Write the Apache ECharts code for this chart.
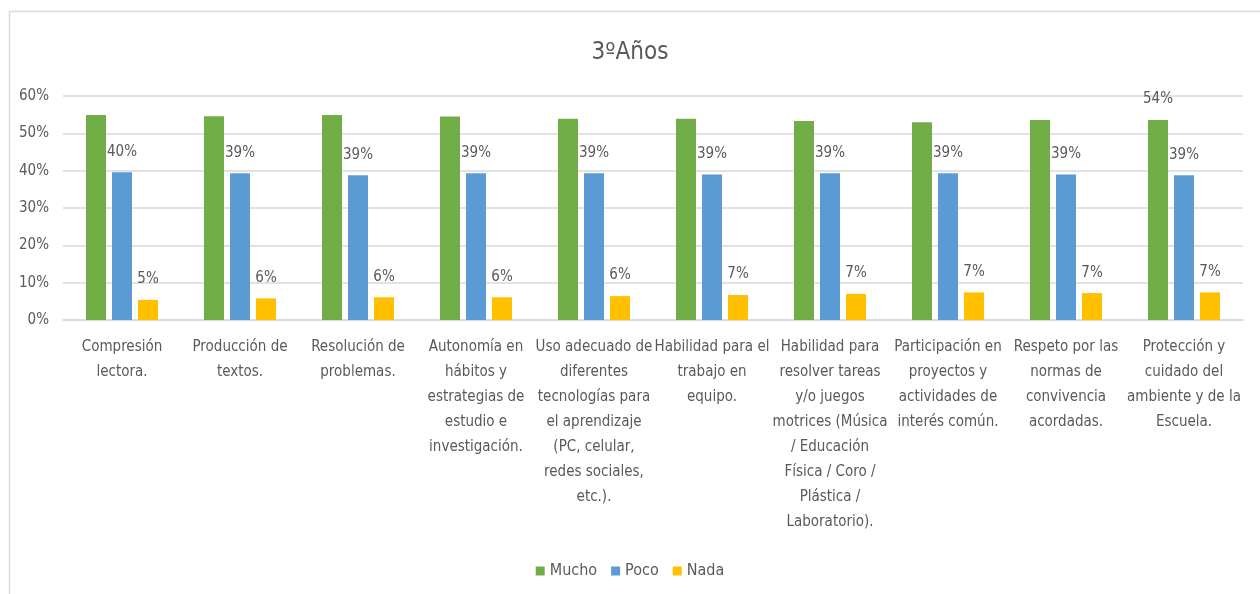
<!DOCTYPE html>
<html>
<head>
<meta charset="utf-8">
<script src="https://cdn.jsdelivr.net/npm/echarts@6/dist/echarts.min.js"></script>
<style>
  html, body { margin: 0; padding: 0; background: #ffffff; }
  #chart { width: 1260px; height: 594px; }
</style>
</head>
<body>
<div id="chart"></div>
<script>
// Categories (wrapped lines as shown under the axis)
const categories = [
  'Compresión\nlectora.',
  'Producción de\ntextos.',
  'Resolución de\nproblemas.',
  'Autonomía en\nhábitos y\nestrategias de\nestudio e\ninvestigación.',
  'Uso adecuado de\ndiferentes\ntecnologías para\nel aprendizaje\n(PC, celular,\nredes sociales,\netc.).',
  'Habilidad para el\ntrabajo en\nequipo.',
  'Habilidad para\nresolver tareas\ny/o juegos\nmotrices (Música\n/ Educación\nFísica / Coro /\nPlástica /\nLaboratorio).',
  'Participación en\nproyectos y\nactividades de\ninterés común.',
  'Respeto por las\nnormas de\nconvivencia\nacordadas.',
  'Protección y\ncuidado del\nambiente y de la\nEscuela.'
];

// Shares per answer (fractions of 1)
const mucho = [0.549, 0.546, 0.549, 0.545, 0.539, 0.539, 0.533, 0.530, 0.536, 0.536];
const poco  = [0.396, 0.393, 0.388, 0.393, 0.393, 0.390, 0.393, 0.393, 0.390, 0.388];
const nada  = [0.054, 0.058, 0.061, 0.061, 0.064, 0.067, 0.070, 0.074, 0.072, 0.074];

// Only the last "Mucho" bar carries a visible value label
const muchoLabelShown = [false, false, false, false, false, false, false, false, false, true];

const seriesNames = ['Mucho', 'Poco', 'Nada'];
const seriesColors = ['#70AD47', '#5B9BD5', '#FFC000'];
const yTicks = [0, 0.1, 0.2, 0.3, 0.4, 0.5, 0.6];

const FONT = "'Liberation Sans Narrow', 'DejaVu Sans Condensed', 'Roboto', sans-serif";
const TEXT = '#595959';

const pct = v => Math.round(v * 100) + '%';

const labelStyle = {
  show: true,
  position: 'top',
  distance: 13,
  color: TEXT,
  fontFamily: FONT,
  fontSize: 15,
  formatter: p => pct(p.value)
};

const chart = echarts.init(document.getElementById('chart'), null, { renderer: 'canvas' });

chart.setOption({
  backgroundColor: '#ffffff',
  animation: false,
  title: {
    text: '3ºAños',
    left: 'center',
    top: 36,
    textStyle: { color: TEXT, fontFamily: FONT, fontSize: 24, fontWeight: 'normal' }
  },
  graphic: [{
    type: 'rect',
    shape: { x: 9.5, y: 11.5, width: 1300, height: 700 },
    style: { fill: 'none', stroke: '#D9D9D9', lineWidth: 1.5 },
    silent: true,
    z: -1
  }],
  legend: {
    bottom: 10,
    left: 'center',
    itemWidth: 9,
    itemHeight: 9,
    itemGap: 14,
    icon: 'rect',
    textStyle: { color: TEXT, fontFamily: FONT, fontSize: 16 },
    data: seriesNames
  },
  grid: { left: 63, right: 17, top: 96, bottom: 274, containLabel: false },
  xAxis: {
    type: 'category',
    data: categories,
    axisLine: { lineStyle: { color: '#D9D9D9', width: 1.5 } },
    axisTick: { show: false },
    axisLabel: {
      interval: 0,
      margin: 15,
      color: TEXT,
      fontFamily: FONT,
      fontSize: 15,
      lineHeight: 25,
      align: 'center'
    }
  },
  yAxis: {
    type: 'value',
    min: yTicks[0],
    max: yTicks[yTicks.length - 1],
    interval: 0.1,
    axisLine: { show: false },
    axisTick: { show: false },
    splitLine: { lineStyle: { color: '#D9D9D9', width: 1.5 } },
    axisLabel: {
      margin: 14,
      color: TEXT,
      fontFamily: FONT,
      fontSize: 15,
      formatter: v => pct(v)
    }
  },
  series: [
    {
      name: seriesNames[0],
      type: 'bar',
      barWidth: 20,
      barGap: '30%',
      itemStyle: { color: seriesColors[0] },
      data: mucho.map((v, i) => ({
        value: v,
        label: Object.assign({}, labelStyle, { show: muchoLabelShown[i] })
      }))
    },
    {
      name: seriesNames[1],
      type: 'bar',
      barWidth: 20,
      barGap: '30%',
      itemStyle: { color: seriesColors[1] },
      label: labelStyle,
      data: poco
    },
    {
      name: seriesNames[2],
      type: 'bar',
      barWidth: 20,
      barGap: '30%',
      itemStyle: { color: seriesColors[2] },
      label: labelStyle,
      data: nada
    }
  ]
});
</script>
</body>
</html>
